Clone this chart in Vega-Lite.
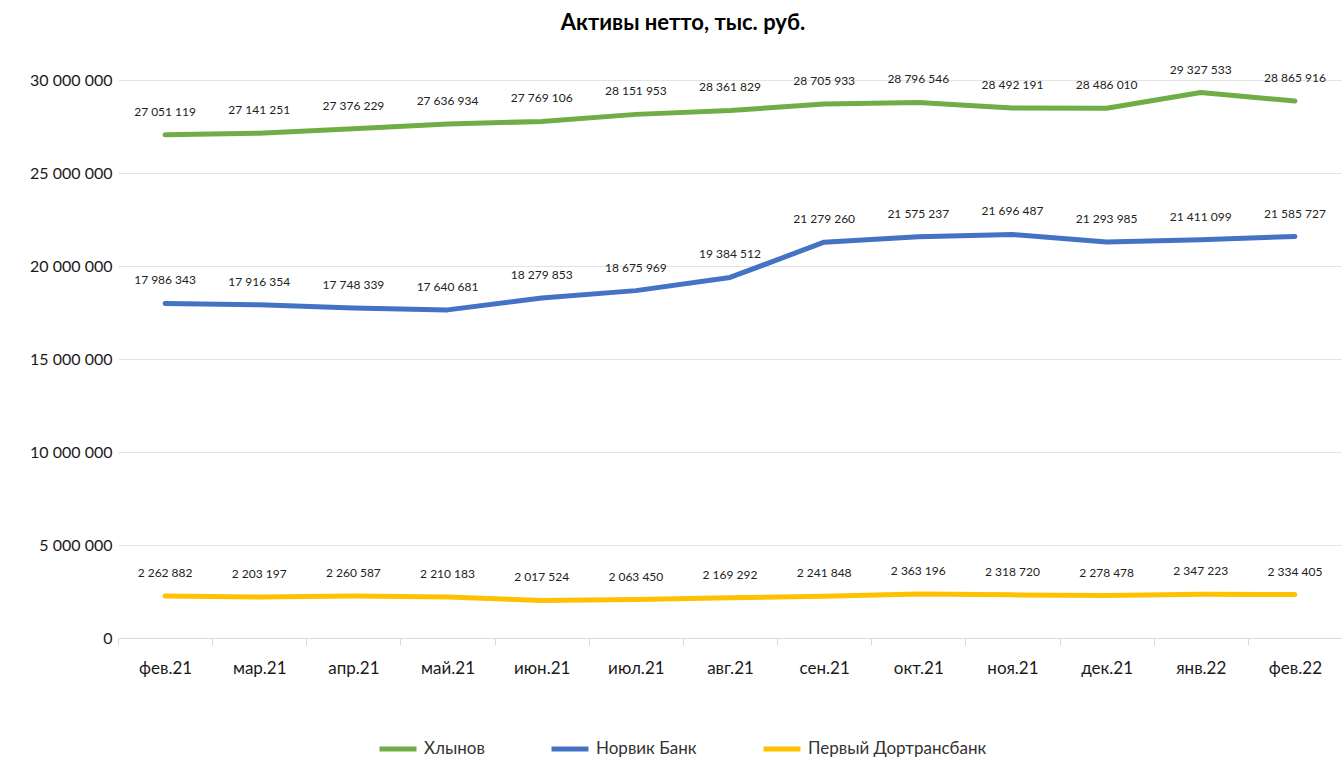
{
  "$schema": "https://vega.github.io/schema/vega-lite/v6.json",
  "width": 1224,
  "height": 558,
  "autosize": {"type": "none"},
  "padding": {"left": 118, "top": 80, "right": 0, "bottom": 120},
  "background": "white",
  "title": {
    "text": "Активы нетто, тыс. руб.",
    "font": "Lato",
    "fontSize": 22,
    "fontWeight": "bold",
    "color": "#000000",
    "anchor": "middle",
    "dx": -47,
    "offset": 29
  },
  "config": {
    "view": {"stroke": null},
    "locale": {"number": {"decimal": ",", "thousands": " ", "grouping": [3], "currency": ["", " ₽"]}}
  },
  "data": {
    "values": [
      {"month": "фев.21", "bank": "Хлынов", "value": 27051119},
      {"month": "мар.21", "bank": "Хлынов", "value": 27141251},
      {"month": "апр.21", "bank": "Хлынов", "value": 27376229},
      {"month": "май.21", "bank": "Хлынов", "value": 27636934},
      {"month": "июн.21", "bank": "Хлынов", "value": 27769106},
      {"month": "июл.21", "bank": "Хлынов", "value": 28151953},
      {"month": "авг.21", "bank": "Хлынов", "value": 28361829},
      {"month": "сен.21", "bank": "Хлынов", "value": 28705933},
      {"month": "окт.21", "bank": "Хлынов", "value": 28796546},
      {"month": "ноя.21", "bank": "Хлынов", "value": 28492191},
      {"month": "дек.21", "bank": "Хлынов", "value": 28486010},
      {"month": "янв.22", "bank": "Хлынов", "value": 29327533},
      {"month": "фев.22", "bank": "Хлынов", "value": 28865916},
      {"month": "фев.21", "bank": "Норвик Банк", "value": 17986343},
      {"month": "мар.21", "bank": "Норвик Банк", "value": 17916354},
      {"month": "апр.21", "bank": "Норвик Банк", "value": 17748339},
      {"month": "май.21", "bank": "Норвик Банк", "value": 17640681},
      {"month": "июн.21", "bank": "Норвик Банк", "value": 18279853},
      {"month": "июл.21", "bank": "Норвик Банк", "value": 18675969},
      {"month": "авг.21", "bank": "Норвик Банк", "value": 19384512},
      {"month": "сен.21", "bank": "Норвик Банк", "value": 21279260},
      {"month": "окт.21", "bank": "Норвик Банк", "value": 21575237},
      {"month": "ноя.21", "bank": "Норвик Банк", "value": 21696487},
      {"month": "дек.21", "bank": "Норвик Банк", "value": 21293985},
      {"month": "янв.22", "bank": "Норвик Банк", "value": 21411099},
      {"month": "фев.22", "bank": "Норвик Банк", "value": 21585727},
      {"month": "фев.21", "bank": "Первый Дортрансбанк", "value": 2262882},
      {"month": "мар.21", "bank": "Первый Дортрансбанк", "value": 2203197},
      {"month": "апр.21", "bank": "Первый Дортрансбанк", "value": 2260587},
      {"month": "май.21", "bank": "Первый Дортрансбанк", "value": 2210183},
      {"month": "июн.21", "bank": "Первый Дортрансбанк", "value": 2017524},
      {"month": "июл.21", "bank": "Первый Дортрансбанк", "value": 2063450},
      {"month": "авг.21", "bank": "Первый Дортрансбанк", "value": 2169292},
      {"month": "сен.21", "bank": "Первый Дортрансбанк", "value": 2241848},
      {"month": "окт.21", "bank": "Первый Дортрансбанк", "value": 2363196},
      {"month": "ноя.21", "bank": "Первый Дортрансбанк", "value": 2318720},
      {"month": "дек.21", "bank": "Первый Дортрансбанк", "value": 2278478},
      {"month": "янв.22", "bank": "Первый Дортрансбанк", "value": 2347223},
      {"month": "фев.22", "bank": "Первый Дортрансбанк", "value": 2334405}
    ]
  },
  "encoding": {
    "x": {
      "field": "month",
      "type": "ordinal",
      "sort": null,
      "scale": {"type": "band", "paddingInner": 0, "paddingOuter": 0},
      "axis": {
        "title": null,
        "labelAngle": 0,
        "labelFont": "Lato",
        "labelFontSize": 17,
        "labelColor": "#1a1a1a",
        "labelPadding": 15,
        "domainColor": "#d9d9d9",
        "tickColor": "#d9d9d9",
        "tickSize": 7,
        "tickBand": "extent",
        "grid": false
      }
    },
    "y": {
      "field": "value",
      "type": "quantitative",
      "scale": {"domain": [0, 30000000], "nice": false},
      "axis": {
        "title": null,
        "values": [0, 5000000, 10000000, 15000000, 20000000, 25000000, 30000000],
        "format": ",d",
        "labelFont": "Lato",
        "labelFontSize": 16,
        "labelColor": "#1a1a1a",
        "labelPadding": 6,
        "domain": false,
        "ticks": false,
        "gridColor": "#e3e3e3",
        "gridWidth": 1
      }
    },
    "color": {
      "field": "bank",
      "type": "nominal",
      "scale": {
        "domain": ["Хлынов", "Норвик Банк", "Первый Дортрансбанк"],
        "range": ["#70AD47", "#4472C4", "#FFC000"]
      },
      "legend": {
        "title": null,
        "orient": "none",
        "direction": "horizontal",
        "legendX": 259,
        "legendY": 648,
        "symbolType": "stroke",
        "symbolSize": 1369,
        "symbolStrokeWidth": 5,
        "labelFont": "Lato",
        "labelFontSize": 17,
        "labelColor": "#333333",
        "labelOffset": 5,
        "columnPadding": 56,
        "labelLimit": 400
      }
    }
  },
  "layer": [
    {
      "mark": {"type": "line", "strokeWidth": 5, "strokeCap": "round", "strokeJoin": "round"}
    },
    {
      "mark": {"type": "text", "dy": -23, "baseline": "middle", "font": "Lato", "fontSize": 12, "color": "#222222"},
      "encoding": {
        "text": {"field": "value", "type": "quantitative", "format": ",d"},
        "color": {"value": "#222222"}
      }
    }
  ]
}
